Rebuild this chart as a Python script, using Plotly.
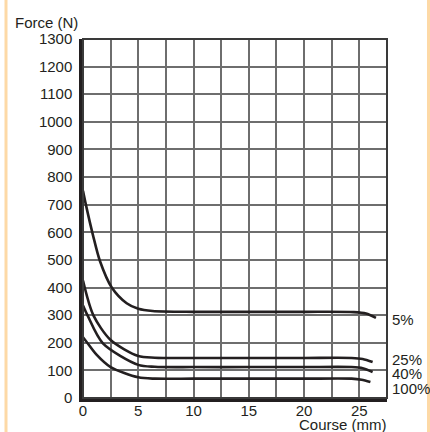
import plotly.graph_objects as go

# Data
x_5 = [0, 0.25, 0.9, 1.54, 2.6, 3.95, 5, 6.3, 10, 15, 20, 24.5, 25.6, 26.5]
y_5 = [750, 702, 590, 495, 400, 343, 323, 315, 312, 312, 312, 311, 306, 290]

x_25 = [0, 0.93, 2.5, 5, 6.5, 10, 15, 20, 24.3, 25.3, 26.2]
y_25 = [425, 300, 210, 152, 146, 145, 145, 145, 145, 141, 130]

x_40 = [0, 0.4, 1.8, 5, 6.5, 10, 15, 20, 24.3, 25.3, 26.2]
y_40 = [335, 300, 198, 120, 113, 112, 112, 112, 112, 108, 94]

x_100 = [0, 0.33, 1.2, 2.5, 5, 6.5, 10, 15, 20, 24.3, 25.2, 26.0]
y_100 = [220, 203, 158, 112, 75, 70, 70, 70, 70, 70, 66, 58]

curve_labels = ["5%", "25%", "40%", "100%"]
label_y = [283, 138, 90, 36]

x_ticks = [0, 5, 10, 15, 20, 25]
y_ticks = list(range(0, 1301, 100))

FONT = "Liberation Sans, Arial, Helvetica, sans-serif"
TXT = "#231F20"

fig = go.Figure()
for xs, ys in [(x_5, y_5), (x_25, y_25), (x_40, y_40), (x_100, y_100)]:
    fig.add_trace(go.Scatter(x=xs, y=ys, mode="lines",
                             line=dict(color="#231F20", width=2.6, shape="spline", smoothing=0.8),
                             showlegend=False, hoverinfo="skip"))

for lab, ly in zip(curve_labels, label_y):
    fig.add_annotation(x=27.5, y=ly, xref="x", yref="y", text=lab, showarrow=False,
                       xanchor="left", yanchor="middle", xshift=3,
                       font=dict(family=FONT, size=15, color=TXT))

L, R, T, B = 83, 43, 39, 34
W, H = 430, 432
pw, ph = W - L - R, H - T - B

def px(xp):
    return (xp - L) / pw

def py(yp):
    return (H - B - yp) / ph

fig.add_annotation(x=px(80), y=py(22), xref="paper", yref="paper", text="Force (N)",
                   showarrow=False, xanchor="right", yanchor="middle",
                   font=dict(family=FONT, size=15, color=TXT))
fig.add_annotation(x=px(389), y=py(424), xref="paper", yref="paper", text="Course (mm)",
                   showarrow=False, xanchor="right", yanchor="middle",
                   font=dict(family=FONT, size=15, color=TXT))

# side borders (light orange)
for xp in [6, 428.5]:
    fig.add_shape(type="line", xref="paper", yref="paper", x0=px(xp), x1=px(xp),
                  y0=py(0), y1=py(432), line=dict(color="#FDD9A6", width=3), layer="above")

# top/right frame
fig.add_shape(type="rect", xref="paper", yref="paper", x0=0, x1=1, y0=0, y1=1,
              line=dict(color="#3a3a3a", width=2), layer="above")

fig.update_xaxes(range=[0, 27.5], tickvals=x_ticks, ticktext=[str(v) for v in x_ticks],
                 showgrid=True, gridcolor="#6e6e6e", gridwidth=1.5,
                 minor=dict(dtick=2.5, tick0=0, showgrid=True, gridcolor="#6e6e6e", gridwidth=1.5),
                 showline=True, linecolor="#231F20", linewidth=3.5, ticks="", zeroline=False,
                 ticklabelstandoff=-4, layer="above traces",
                 tickfont=dict(family=FONT, size=15, color=TXT), fixedrange=True)
fig.update_yaxes(range=[0, 1300], tickvals=y_ticks, ticktext=[str(v) for v in y_ticks],
                 showgrid=True, gridcolor="#6e6e6e", gridwidth=1.5,
                 showline=True, linecolor="#231F20", linewidth=3.5, ticks="", zeroline=False,
                 ticklabelstandoff=4, layer="above traces",
                 tickfont=dict(family=FONT, size=15, color=TXT), fixedrange=True)

fig.update_layout(width=W, height=H, margin=dict(l=L, r=R, t=T, b=B, autoexpand=False),
                  paper_bgcolor="white", plot_bgcolor="white", showlegend=False)

fig.write_html("out.html", config={"displayModeBar": False})
